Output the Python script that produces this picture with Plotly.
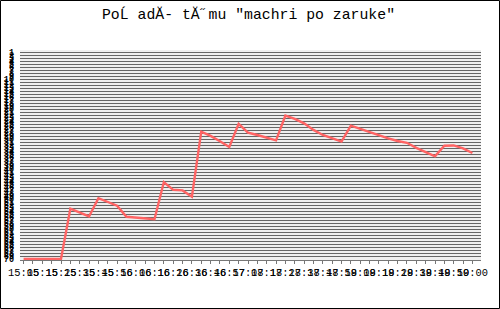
import plotly.graph_objects as go

# time labels (every second sample)
time_labels = ["15:05", "15:15", "15:25", "15:35", "15:45", "15:56", "16:06", "16:16",
               "16:26", "16:36", "16:46", "16:57", "17:08", "17:18", "17:28", "17:38",
               "17:48", "17:59", "18:09", "18:19", "18:29", "18:39", "18:49", "18:50", "19:00"]

# team rank at each sample
rank = [70, 70, 70, 70, 70, 53.2, 54.5, 55.8, 49.7, 50.9, 52.2, 55.9, 56.1, 56.4, 56.7,
        44.3, 46.9, 47.1, 49.2, 27.5, 28.9, 30.7, 32.6, 24.9, 27.8, 28.6, 29.5, 30.4,
        22.1, 23.2, 24.7, 26.9, 28.6, 29.7, 30.8, 25.5, 26.6, 27.6, 28.6, 29.7, 30.6,
        31.2, 32.9, 34.4, 35.7, 32.2, 32.1, 33.1, 34.6]

rank_ticks = list(range(1, 71))

x = list(range(len(rank)))
tickvals = x
ticktext = [time_labels[i // 2] if i % 2 == 0 else "" for i in x]

fig = go.Figure()
fig.add_trace(go.Scatter(x=x, y=rank, mode="lines",
                         line=dict(color="#ff6464", width=2.4),
                         hoverinfo="skip", showlegend=False))

fig.update_layout(
    width=500, height=309,
    margin=dict(l=20, r=19, t=50, b=49, pad=0),
    paper_bgcolor="white",
    plot_bgcolor="#efefef",
    title=dict(text='PoĹ adĂ- tĂ˝mu "machri po zaruke"',
               x=0.497, xref="container", xanchor="center",
               y=1 - 14 / 309, yref="container", yanchor="middle",
               font=dict(family="Liberation Mono", size=14.8, color="black")),
    xaxis=dict(range=[-0.385, 48.92], tickmode="array", tickvals=tickvals,
               ticktext=ticktext, tickangle=0, ticks="outside", ticklen=3,
               tickcolor="#777777", showgrid=False, zeroline=False,
               showline=True, linecolor="#777777", linewidth=1,
               automargin=False,
               tickfont=dict(family="Liberation Mono", size=10.4, color="black")),
    yaxis=dict(range=[70.33, 0.23], tickmode="array", tickvals=rank_ticks,
               ticktext=[str(v) for v in rank_ticks], ticks="",
               ticklabelstandoff=5, automargin=False,
               showgrid=True, gridcolor="#666666", gridwidth=1,
               zeroline=False, showline=False,
               tickfont=dict(family="Liberation Mono", size=8.5, color="black",
                             weight="bold")),
    shapes=[dict(type="rect", xref="paper", yref="paper",
                 x0=(0.5 - 20) / 461, x1=(499.5 - 20) / 461,
                 y0=(260 - 308.5) / 210, y1=(260 - 0.5) / 210,
                 line=dict(color="black", width=1), fillcolor="rgba(0,0,0,0)")],
)

fig.write_html("out.html")
